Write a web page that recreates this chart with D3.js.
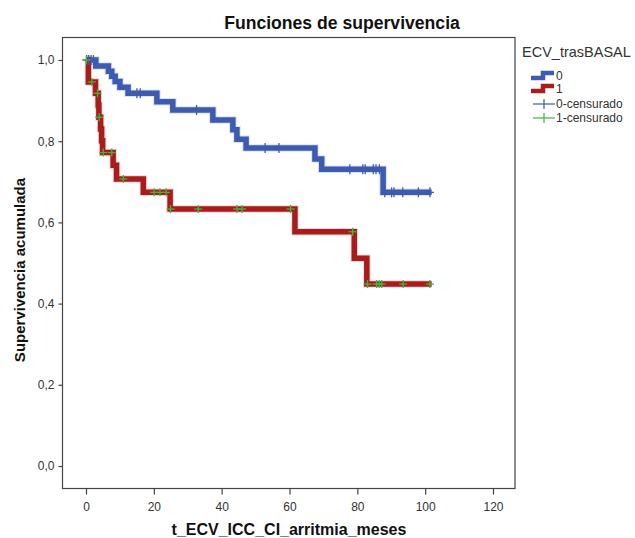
<!DOCTYPE html>
<html><head><meta charset="utf-8">
<script src="https://cdn.jsdelivr.net/npm/d3@7"></script>
<style>
html,body{margin:0;padding:0;background:#fff;}
text{font-family:"Liberation Sans",Arial,sans-serif;}
</style></head>
<body>
<svg id="c" width="635" height="538"></svg>
<script>
// ---- data ----
const groups = ["0", "1"];
const g0Times = [0, 2.9, 6.6, 7.6, 8.6, 10.0, 12.4, 20.9, 25.6, 37.4, 43.3, 44.5, 47.2, 67.5, 69.5, 87.6];
const g0Surv  = [1.0, 0.985, 0.972, 0.960, 0.947, 0.933, 0.918, 0.897, 0.877, 0.852, 0.828, 0.805, 0.783, 0.756, 0.731, 0.674];
const g0End = 101.9;
const g0Cens = [0.2, 0.8, 1.5, 2.2, 15.0, 16.0, 32.6, 52.8, 56.9, 77.8, 81.6, 82.3, 84.7, 85.5, 86.5, 88.1, 90.1, 90.8, 93.4, 98.0, 101.4];

const g1Times = [0, 0.7, 2.8, 3.6, 3.8, 4.3, 4.6, 4.9, 8.0, 9.0, 16.9, 24.8, 61.6, 79.1, 82.8];
const g1Surv  = [1.0, 0.946, 0.918, 0.889, 0.859, 0.830, 0.801, 0.772, 0.741, 0.707, 0.674, 0.633, 0.577, 0.512, 0.448];
const g1End = 101.9;
const g1Cens = [0.1, 1.7, 3.4, 3.9, 5.1, 7.6, 11.0, 20.1, 21.8, 23.6, 24.9, 33.1, 44.5, 46.0, 60.3, 78.6, 83.0, 85.7, 86.5, 87.2, 93.5, 101.4];

const xTicks = [0, 20, 40, 60, 80, 100, 120];
const yTicks = [0, 0.2, 0.4, 0.6, 0.8, 1.0];
const legendLabels = ["0", "1", "0-censurado", "1-censurado"];
const titleText = "Funciones de supervivencia";
const xLabel = "t_ECV_ICC_CI_arritmia_meses";
const yLabel = "Supervivencia acumulada";
const legendTitle = "ECV_trasBASAL";

// ---- styles ----
const blue = "#3d5bb0", red = "#a81c1c", green = "#3fb53f", axisCol = "#444";
const svg = d3.select("#c");
const frame = {l: 62.5, r: 515, t: 37.5, b: 488.5};
const x = d3.scaleLinear().domain([0, 120]).range([86, 493]);
const y = d3.scaleLinear().domain([0, 1]).range([466, 60]);

// title
svg.append("text").attr("x", 342).attr("y", 29).attr("text-anchor", "middle")
  .attr("font-size", 17.6).attr("font-weight", "bold").attr("fill", "#111").text(titleText);

// frame
svg.append("rect").attr("x", frame.l).attr("y", frame.t)
  .attr("width", frame.r - frame.l).attr("height", frame.b - frame.t)
  .attr("fill", "none").attr("stroke", axisCol).attr("stroke-width", 1.2);

// axes
const fmt = d => d3.format(".1f")(d).replace(".", ",");
const ya = svg.append("g").attr("transform", `translate(${frame.l},0)`)
  .call(d3.axisLeft(y).tickValues(yTicks).tickFormat(fmt).tickSize(4).tickSizeOuter(0));
ya.select(".domain").remove();
ya.selectAll("line").attr("stroke", axisCol).attr("stroke-width", 1.2);
ya.selectAll("text").attr("font-size", 12).attr("fill", "#333").attr("font-family", "Liberation Sans, Arial").attr("dx", "-1");

const xa = svg.append("g").attr("transform", `translate(0,${frame.b})`)
  .call(d3.axisBottom(x).tickValues(xTicks).tickFormat(d3.format("d")).tickSize(6).tickSizeOuter(0));
xa.select(".domain").remove();
xa.selectAll("line").attr("stroke", axisCol).attr("stroke-width", 1.2);
xa.selectAll("text").attr("font-size", 12).attr("fill", "#333").attr("font-family", "Liberation Sans, Arial").attr("dy", "1.1em");

// axis labels
svg.append("text").attr("x", 289).attr("y", 535).attr("text-anchor", "middle")
  .attr("font-size", 16).attr("font-weight", "bold").attr("fill", "#111").text(xLabel);
svg.append("text").attr("transform", "translate(25,270) rotate(-90)").attr("text-anchor", "middle")
  .attr("font-size", 15).attr("font-weight", "bold").attr("fill", "#111").text(yLabel);

// curves
function stepAt(times, surv, t) {
  let v = surv[0];
  for (let i = 0; i < times.length; i++) if (times[i] <= t) v = surv[i];
  return v;
}
const line = d3.line().x(d => x(d[0])).y(d => y(d[1])).curve(d3.curveStepAfter);
function drawCurve(times, surv, end, col) {
  const pts = times.map((t, i) => [t, surv[i]]);
  pts.push([end, surv[surv.length - 1]]);
  svg.append("path").attr("d", line(pts)).attr("fill", "none").attr("stroke", col)
    .attr("stroke-opacity", 0.18).attr("stroke-width", 7.5);
  svg.append("path").attr("d", line(pts)).attr("fill", "none").attr("stroke", col)
    .attr("stroke-width", 5.5).attr("stroke-linejoin", "miter");
}
function drawCens(times, surv, cens, col, h) {
  const g = svg.append("g").attr("stroke", col).attr("stroke-width", 1.3);
  cens.forEach(t => {
    const cx = x(t), cy = y(stepAt(times, surv, t));
    g.append("line").attr("x1", cx - 4).attr("x2", cx + 4).attr("y1", cy).attr("y2", cy);
    g.append("line").attr("x1", cx).attr("x2", cx).attr("y1", cy - h).attr("y2", cy + h);
  });
}
drawCurve(g0Times, g0Surv, g0End, blue);
drawCurve(g1Times, g1Surv, g1End, red);
drawCens(g0Times, g0Surv, g0Cens, blue, 5);
drawCens(g1Times, g1Surv, g1Cens, green, 4);

// legend
svg.append("text").attr("x", 522).attr("y", 57).attr("font-size", 14.5).attr("fill", "#333").text(legendTitle);
const lg = svg.append("g");
const iconCols = [blue, red];
[0, 1].forEach(i => {
  const cy = 76 + i * 13;
  lg.append("path").attr("d", `M531,${cy + 2}H543V${cy - 3}H554`).attr("fill", "none")
    .attr("stroke", iconCols[i]).attr("stroke-width", 4.5);
  lg.append("text").attr("x", 556).attr("y", cy + 4).attr("font-size", 12).attr("fill", "#333").text(legendLabels[i]);
});
[[blue, 104], [green, 118]].forEach(([col, cy], j) => {
  lg.append("line").attr("x1", 533).attr("x2", 555).attr("y1", cy).attr("y2", cy).attr("stroke", col).attr("stroke-width", 1.2);
  lg.append("line").attr("x1", 544).attr("x2", 544).attr("y1", cy - 5).attr("y2", cy + 5).attr("stroke", col).attr("stroke-width", 1.2);
  lg.append("text").attr("x", 556).attr("y", cy + 4).attr("font-size", 12).attr("fill", "#333").text(legendLabels[2 + j]);
});
</script>
</body></html>
